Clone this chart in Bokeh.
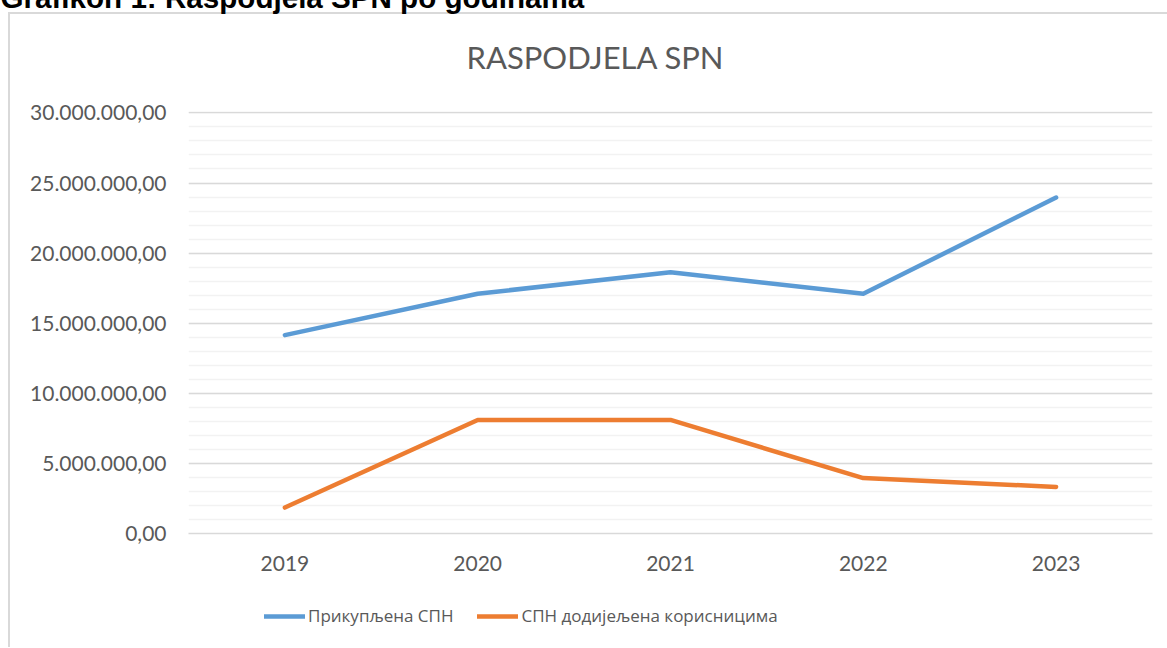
from bokeh.plotting import figure
from bokeh.layouts import column
from bokeh.models import (FactorRange, Range1d, SingleIntervalTicker, Legend,
                          LegendItem, Title, ColumnDataSource)
from bokeh.embed import file_html
from bokeh.resources import INLINE

# ---- data ----
years = ["2019", "2020", "2021", "2022", "2023"]
collected = [14150000, 17100000, 18630000, 17100000, 23960000]
allocated = [1850000, 8100000, 8100000, 3950000, 3320000]
series_names = ["Прикупљена СПН", "СПН додијељена корисницима"]
series_colors = ["#5B9BD5", "#ED7D31"]
y_ticks = [0, 5000000, 10000000, 15000000, 20000000, 25000000, 30000000]
y_tick_labels = ["0,00", "5.000.000,00", "10.000.000,00", "15.000.000,00",
                 "20.000.000,00", "25.000.000,00", "30.000.000,00"]
chart_title = "RASPODJELA SPN"
caption = "Grafikon 1: Raspodjela SPN po godinama"

src = ColumnDataSource(dict(year=years, collected=collected, allocated=allocated))

T = -22                     # page y of the canvas top
FL, FR, FT, FB = 188, 1152, 110, 532
W = 1167
BOTTOM1 = 60                # space under the plot frame in the chart figure
LEG_H = 648 - (FB + BOTTOM1 + 2)

chart_css = ("linear-gradient(#d9d9d9,#d9d9d9) no-repeat 8px %dpx / 2px 100%%, "
             "linear-gradient(#d9d9d9,#d9d9d9) no-repeat 8px %dpx / 100%% 2px"
             % (12 - T, 12 - T))
legend_css = "linear-gradient(#d9d9d9,#d9d9d9) no-repeat 8px 0px / 2px 100%"

p = figure(x_range=FactorRange(*years), y_range=Range1d(0, 30100000),
           frame_width=FR - FL, frame_height=FB - FT,
           output_backend="svg", toolbar_location=None,
           min_border_left=FL, min_border_right=W - FR,
           min_border_top=0, min_border_bottom=BOTTOM1,
           background_fill_color="white", border_fill_color=None,
           outline_line_color=None,
           styles={"background": chart_css})

# axes / grid
p.yaxis.ticker = SingleIntervalTicker(interval=5000000, num_minor_ticks=5)
p.yaxis.major_label_overrides = {v: s for v, s in zip(y_ticks, y_tick_labels)}
p.yaxis.axis_line_color = None
p.yaxis.major_tick_line_color = None
p.yaxis.minor_tick_line_color = None
p.yaxis.major_label_standoff = 16
p.yaxis.major_label_text_font = "Lato"
p.yaxis.major_label_text_font_size = "21px"
p.yaxis.major_label_text_color = "#595959"

p.xaxis.axis_line_color = "#d9d9d9"
p.xaxis.axis_line_width = 1.5
p.xaxis.major_tick_line_color = None
p.xaxis.minor_tick_line_color = None
p.xaxis.major_label_standoff = 16
p.xaxis.major_label_text_font = "Lato"
p.xaxis.major_label_text_font_size = "21px"
p.xaxis.major_label_text_color = "#595959"

p.xgrid.grid_line_color = None
p.ygrid.grid_line_color = "#d9d9d9"
p.ygrid.grid_line_width = 1.5
p.ygrid.minor_grid_line_color = "#f2f2f2"
p.ygrid.minor_grid_line_width = 1.5

# series
p.line(x="year", y="collected", source=src, line_color=series_colors[0],
       line_width=4.5, line_cap="round", line_join="round")
p.line(x="year", y="allocated", source=src, line_color=series_colors[1],
       line_width=4.5, line_cap="round", line_join="round")

# top panels: spacer (nearest to frame), chart title, caption
p.add_layout(Title(text=" ", text_font_size="8px", standoff=0), "above")
p.add_layout(Title(text=chart_title, align="left", offset=466 - FL,
                   vertical_align="middle", standoff=47, text_font="Lato",
                   text_font_size="31px", text_font_style="normal",
                   text_color="#595959"), "above")
p.add_layout(Title(text=caption, align="left", offset=0 - FL,
                   vertical_align="bottom", standoff=0,
                   text_font="Liberation Sans", text_font_style="bold",
                   text_font_size="29.6px", text_color="#000000"), "above")

# legend strip (separate figure so the legend is not clipped);
# its frame is aligned with the chart frame by the column layout
lg = figure(width=W, height=LEG_H, x_range=Range1d(0, 1), y_range=Range1d(0, 1),
            x_axis_type=None, y_axis_type=None, output_backend="svg",
            toolbar_location=None, min_border=0, outline_line_color=None,
            background_fill_color=None, border_fill_color=None,
            styles={"background": legend_css})
lg.xgrid.grid_line_color = None
lg.ygrid.grid_line_color = None
nan = float("nan")
key_renderers = [lg.line(x=[nan], y=[nan], line_color=c, line_width=4.5,
                         line_cap="round") for c in series_colors]
legend = Legend(items=[LegendItem(label=n, renderers=[r])
                       for n, r in zip(series_names, key_renderers)],
                location=(264 - FL, 648 - 628), orientation="horizontal",
                spacing=24, label_standoff=3, glyph_width=41, glyph_height=20,
                label_height=20, padding=0, margin=0, border_line_color=None,
                background_fill_alpha=0, label_text_font="Open Sans",
                label_text_font_size="17px", label_text_color="#595959")
lg.add_layout(legend)

layout = column(p, lg, spacing=0, styles={"margin-top": "%dpx" % T})
open("out.html", "w").write(file_html(layout, INLINE))
